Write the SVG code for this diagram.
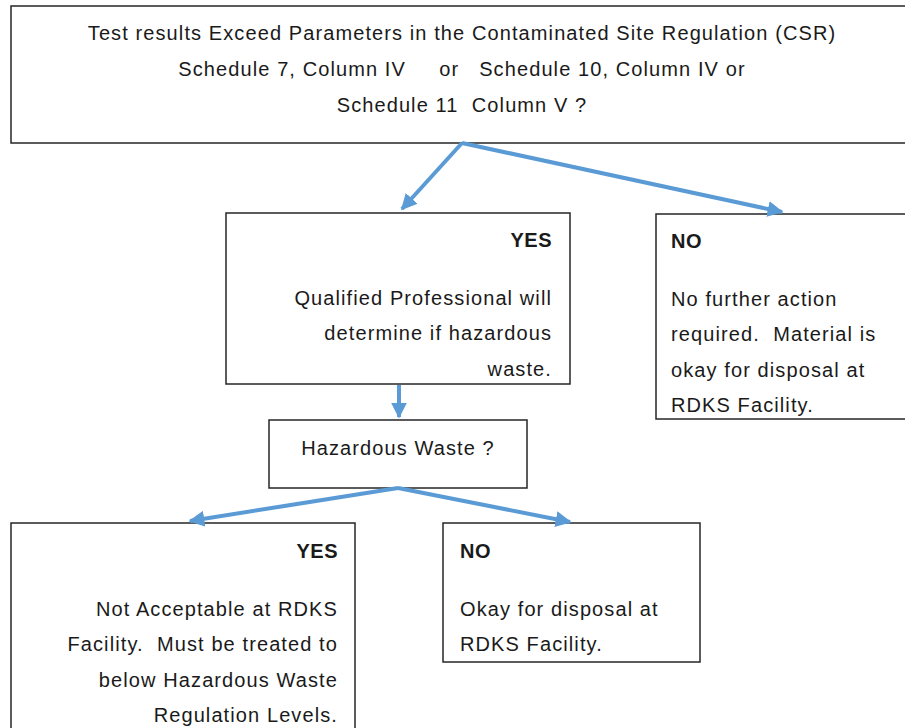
<svg xmlns="http://www.w3.org/2000/svg" width="905" height="728" viewBox="0 0 905 728">
<style>
.box{fill:#fff;stroke:#262626;stroke-width:1.5}
text{font-family:"Liberation Sans",Arial,sans-serif;font-size:20px;letter-spacing:1.1px;fill:#1a1a1a}
.b{font-weight:bold;letter-spacing:0.5px}
.c{text-anchor:middle}
.r{text-anchor:end}
.conn{stroke:#5B9BD5;stroke-width:4;fill:none}
</style>
<defs>
<marker id="ah" viewBox="0 0 10 10" refX="9" refY="5" markerWidth="4" markerHeight="4" orient="auto" markerUnits="strokeWidth">
<path d="M0,0 L10,5 L0,10 z" fill="#5B9BD5"/>
</marker>
</defs>
<g id="top">
<rect class="box" x="11" y="6" width="900" height="137"/>
<text class="c" x="462" y="40">Test results Exceed Parameters in the Contaminated Site Regulation (CSR)</text>
<text class="c" x="462" y="76" xml:space="preserve">Schedule 7, Column IV     or   Schedule 10, Column IV or</text>
<text class="c" x="462" y="112" xml:space="preserve">Schedule 11  Column V ?</text>
</g>
<g id="yes1">
<rect class="box" x="226" y="213" width="344" height="171"/>
<text class="r b" x="552" y="247">YES</text>
<text class="r" x="552" y="305">Qualified Professional will</text>
<text class="r" x="552" y="340">determine if hazardous</text>
<text class="r" x="552" y="376">waste.</text>
</g>
<g id="no1">
<rect class="box" x="656" y="214" width="260" height="205"/>
<text class="b" x="671" y="248">NO</text>
<text x="671" y="306">No further action</text>
<text x="671" y="341" xml:space="preserve">required.  Material is</text>
<text x="671" y="377">okay for disposal at</text>
<text x="671" y="412">RDKS Facility.</text>
</g>
<g id="haz">
<rect class="box" x="269" y="420" width="258" height="68"/>
<text class="c" x="398" y="455">Hazardous Waste ?</text>
</g>
<g id="yes2">
<rect class="box" x="11" y="523" width="344" height="215"/>
<text class="r b" x="338" y="558">YES</text>
<text class="r" x="338" y="616">Not Acceptable at RDKS</text>
<text class="r" x="338" y="651" xml:space="preserve">Facility.  Must be treated to</text>
<text class="r" x="338" y="687">below Hazardous Waste</text>
<text class="r" x="338" y="722">Regulation Levels.</text>
</g>
<g id="no2">
<rect class="box" x="443" y="523" width="257" height="139"/>
<text class="b" x="460" y="558">NO</text>
<text x="460" y="616">Okay for disposal at</text>
<text x="460" y="651">RDKS Facility.</text>
</g>
<g id="connectors">
<line class="conn" x1="462" y1="143" x2="402" y2="209" marker-end="url(#ah)"/>
<line class="conn" x1="462" y1="143" x2="782" y2="212" marker-end="url(#ah)"/>
<line class="conn" x1="399" y1="385" x2="399" y2="417" marker-end="url(#ah)"/>
<line class="conn" x1="398" y1="488" x2="190" y2="521" marker-end="url(#ah)"/>
<line class="conn" x1="398" y1="488" x2="570" y2="522" marker-end="url(#ah)"/>
</g>
</svg>
